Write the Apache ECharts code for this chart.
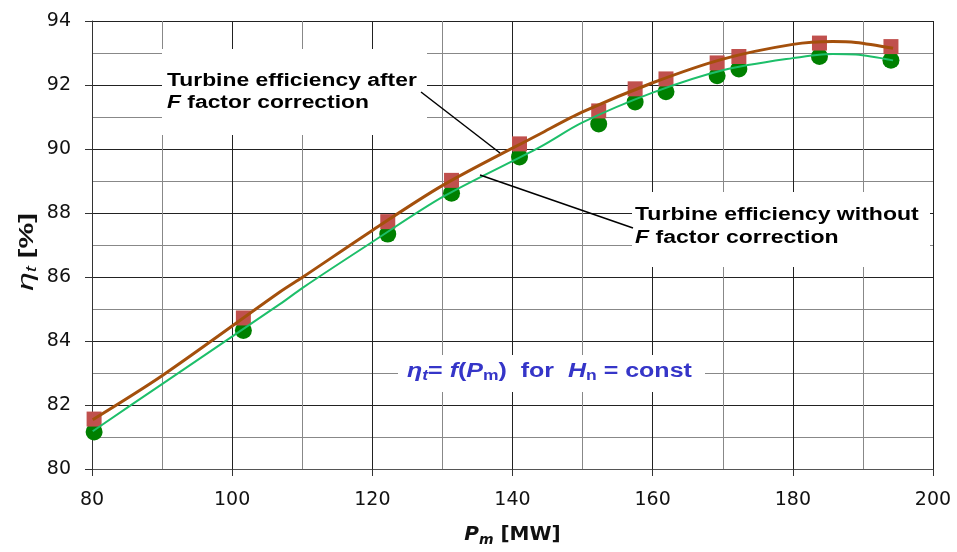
<!DOCTYPE html>
<html>
<head>
<meta charset="utf-8">
<script src="https://cdn.jsdelivr.net/npm/echarts@6/dist/echarts.min.js"></script>
<style>
html, body { margin: 0; padding: 0; background: #fff; }
#chart { width: 957px; height: 552px; }
</style>
</head>
<body>
<div id="chart"></div>
<script>
// measured points, P_m [MW]
var powerMW = [80.3, 101.6, 122.2, 131.3, 141.0, 152.3, 157.5, 161.9, 169.2, 172.3, 183.8, 194.0];
var effCorrected = [81.56, 84.72, 87.73, 89.02, 90.16, 91.19, 91.88, 92.19, 92.69, 92.89, 93.31, 93.20];
var effUncorrected = [81.16, 84.33, 87.34, 88.62, 89.75, 90.78, 91.47, 91.79, 92.29, 92.50, 92.89, 92.77];

// trend lines
var fitX = [80.1, 90.1, 106.8, 110.1, 120.1, 130.1, 143.9, 150, 160, 170, 180, 185.7, 189, 194.3];
var fitCorrected = [81.54, 82.93, 85.53, 86.0, 87.47, 88.87, 90.47, 91.16, 92.07, 92.81, 93.27, 93.36, 93.33, 93.15];
var fitUncorrected = [81.18, 82.67, 85.15, 85.67, 87.11, 88.51, 90.06, 90.83, 91.76, 92.46, 92.84, 92.97, 92.95, 92.77];

var xTicks = [80, 200, 20];
var yTicks = [80, 94, 2];

function pairs(xs, ys){
	var out = [];
	for(var i=0; i<xs.length; i++){
		out.push([xs[i], ys[i]]);
	}
	return out;
}

var font = '"Liberation Sans", Arial, sans-serif';
var wide = '"DejaVu Sans", sans-serif';
var blue = '#3535c8';

var option = {
	animation: false,
	backgroundColor: '#fff',
	grid: { left: 92, right: 24, top: 21, bottom: 72 },
	xAxis: {
		type: 'value',
		min: xTicks[0], max: xTicks[1], interval: xTicks[2],
		axisLine: { lineStyle: { color: '#555' } },
		axisTick: { show: true, length: 7, lineStyle: { color: '#333' } },
		axisLabel: { fontFamily: wide, fontSize: 19, color: '#111', margin: 22 },
		splitLine: { lineStyle: { color: '#222' } },
		minorTick: { show: false, splitNumber: 2 },
		minorSplitLine: { show: true, lineStyle: { color: '#888' } },
		name: '{b|P}{sub|m}{n| [MW]}',
		nameLocation: 'middle',
		nameGap: 54,
		nameTextStyle: {
			rich: {
				b: { fontFamily: wide, fontSize: 20, fontWeight: 'bold', fontStyle: 'italic', color: '#111' },
				sub: { fontFamily: wide, fontSize: 14, fontWeight: 'bold', fontStyle: 'italic', color: '#111', padding: [10, 0, 0, 0] },
				n: { fontFamily: wide, fontSize: 20, fontWeight: 'bold', color: '#111' }
			}
		}
	},
	yAxis: {
		type: 'value',
		min: yTicks[0], max: yTicks[1], interval: yTicks[2],
		axisLine: { show: true, lineStyle: { color: '#333' } },
		axisTick: { show: true, length: 7, lineStyle: { color: '#333' } },
		axisLabel: { fontFamily: wide, fontSize: 19, color: '#111', margin: 21 },
		splitLine: { lineStyle: { color: '#222' } },
		minorTick: { show: false, splitNumber: 2 },
		minorSplitLine: { show: true, lineStyle: { color: '#888' } }
	},
	graphic: [
		{ type: 'rect', z: 5, shape: { x: 162, y: 49, width: 265, height: 86 }, style: { fill: '#fff' } },
		{ type: 'rect', z: 5, shape: { x: 632, y: 192, width: 298, height: 75 }, style: { fill: '#fff' } },
		{ type: 'rect', z: 5, shape: { x: 398, y: 355, width: 307, height: 37 }, style: { fill: '#fff' } },
		{
			type: 'text', z: 6, x: 167, y: 70, scaleX: 1.27,
			style: {
				text: 'Turbine efficiency after\n{i|F} factor correction',
				font: 'bold 18px ' + font, fill: '#000', lineHeight: 22,
				rich: { i: { fontFamily: font, fontSize: 18, fontWeight: 'bold', fontStyle: 'italic', fill: '#000' } }
			}
		},
		{
			type: 'text', z: 6, x: 635, y: 204, scaleX: 1.28,
			style: {
				text: 'Turbine efficiency without\n{i|F} factor correction',
				font: 'bold 18px ' + font, fill: '#000', lineHeight: 23,
				rich: { i: { fontFamily: font, fontSize: 18, fontWeight: 'bold', fontStyle: 'italic', fill: '#000' } }
			}
		},
		{
			type: 'text', z: 6, x: 407, y: 359, scaleX: 1.25,
			style: {
				text: '{it|η}{sit|t}{n|= }{it|f}{n|(}{it|P}{sub|m}{n|)  for  }{it|H}{sub|n}{n| = const}',
				rich: {
					it: { fontFamily: font, fontSize: 20, fontWeight: 'bold', fontStyle: 'italic', fill: blue },
					sit: { fontFamily: font, fontSize: 14, fontWeight: 'bold', fontStyle: 'italic', fill: blue, padding: [10, 0, 0, 0] },
					sub: { fontFamily: font, fontSize: 14, fontWeight: 'bold', fill: blue, padding: [10, 0, 0, 0] },
					n: { fontFamily: font, fontSize: 20, fontWeight: 'bold', fill: blue }
				}
			}
		},
		{
			type: 'text', z: 6, x: 27, y: 252, rotation: Math.PI / 2, scaleX: 1.45,
			style: {
				text: '{it|η}{sit|t}{n| [%]}',
				align: 'center', verticalAlign: 'middle',
				rich: {
					it: { fontFamily: font, fontSize: 23, fontStyle: 'italic', fill: '#111' },
					sit: { fontFamily: font, fontSize: 15, fontStyle: 'italic', fill: '#111', padding: [10, 0, 0, 0] },
					n: { fontFamily: font, fontSize: 20, fontWeight: 'bold', fill: '#111' }
				}
			}
		},
		{ type: 'line', z: 7, shape: { x1: 421, y1: 92, x2: 500, y2: 153 }, style: { stroke: '#000', lineWidth: 1.5 } },
		{ type: 'line', z: 7, shape: { x1: 480, y1: 175, x2: 633, y2: 228 }, style: { stroke: '#000', lineWidth: 1.5 } }
	],
	series: [
		{
			name: 'fit uncorrected', type: 'line', smooth: 0.3, symbol: 'none', z: 3,
			data: pairs(fitX, fitUncorrected),
			lineStyle: { color: '#1dbf6a', width: 2 }
		},
		{
			name: 'fit corrected', type: 'line', smooth: 0.3, symbol: 'none', z: 3,
			data: pairs(fitX, fitCorrected),
			lineStyle: { color: '#a4500c', width: 3 }
		},
		{
			name: 'uncorrected', type: 'scatter', symbol: 'circle', symbolSize: 17, z: 2,
			data: pairs(powerMW, effUncorrected),
			itemStyle: { color: '#008000', opacity: 1 }
		},
		{
			name: 'corrected', type: 'scatter', symbol: 'rect', symbolSize: 15, z: 2,
			data: pairs(powerMW, effCorrected),
			itemStyle: { color: '#c0504d', opacity: 1 }
		}
	]
};

var myChart = echarts.init(document.getElementById('chart'), null, { renderer: 'canvas' });
myChart.setOption(option);
</script>
</body>
</html>
